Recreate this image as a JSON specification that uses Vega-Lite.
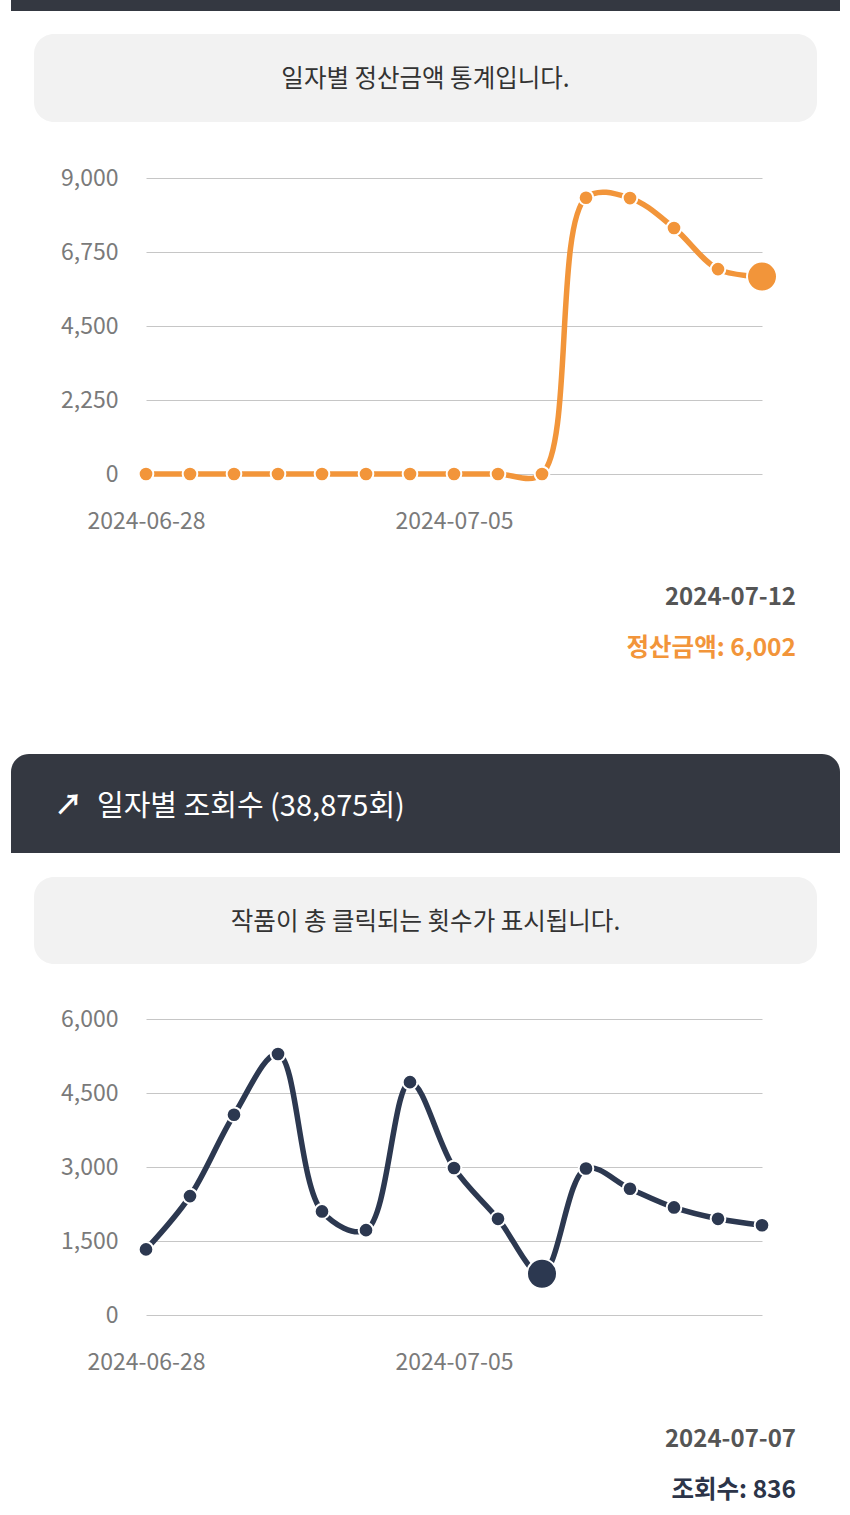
{
  "$schema": "https://vega.github.io/schema/vega-lite/v6.json",
  "background": "#ffffff",
  "padding": {"left": 11, "right": 10, "top": 0, "bottom": 0},
  "autosize": {"type": "pad"},
  "bounds": "flush",
  "spacing": 0,
  "config": {
    "view": {"stroke": null},
    "font": "Noto Sans CJK KR",
    "axis": {"labelFont": "Noto Sans CJK KR", "labelFontSize": 23, "labelColor": "#7a7a7a", "domain": false, "ticks": false, "tickSize": 0, "title": null}
  },
  "datasets": {
    "amount": [
      {"date": "2024-06-28", "value": 0},
      {"date": "2024-06-29", "value": 0},
      {"date": "2024-06-30", "value": 0},
      {"date": "2024-07-01", "value": 0},
      {"date": "2024-07-02", "value": 0},
      {"date": "2024-07-03", "value": 0},
      {"date": "2024-07-04", "value": 0},
      {"date": "2024-07-05", "value": 0},
      {"date": "2024-07-06", "value": 0},
      {"date": "2024-07-07", "value": 0},
      {"date": "2024-07-08", "value": 8400},
      {"date": "2024-07-09", "value": 8390},
      {"date": "2024-07-10", "value": 7480},
      {"date": "2024-07-11", "value": 6230},
      {"date": "2024-07-12", "value": 6002, "hl": true}
    ],
    "views": [
      {"date": "2024-06-28", "value": 1330},
      {"date": "2024-06-29", "value": 2410},
      {"date": "2024-06-30", "value": 4060},
      {"date": "2024-07-01", "value": 5290},
      {"date": "2024-07-02", "value": 2100},
      {"date": "2024-07-03", "value": 1720},
      {"date": "2024-07-04", "value": 4720},
      {"date": "2024-07-05", "value": 2980},
      {"date": "2024-07-06", "value": 1950},
      {"date": "2024-07-07", "value": 836, "hl": true},
      {"date": "2024-07-08", "value": 2970},
      {"date": "2024-07-09", "value": 2560},
      {"date": "2024-07-10", "value": 2180},
      {"date": "2024-07-11", "value": 1950},
      {"date": "2024-07-12", "value": 1819}
    ]
  },
  "vconcat": [
    {
      "width": 829, "height": 11,
      "data": {"values": [{"part": "strip"}]},
      "mark": {"type": "rect", "color": "#343841"}
    },
    {
      "width": 829, "height": 23,
      "data": {"values": []},
      "mark": "rect"
    },
    {
      "width": 829, "height": 88,
      "data": {"values": [{"msg": "일자별 정산금액 통계입니다.", "from": 0, "to": 1}]},
      "layer": [
        {
          "mark": {"type": "rect", "color": "#f2f2f2", "cornerRadius": 20},
          "encoding": {
            "x": {"field": "from", "type": "quantitative", "scale": {"domain": [0, 1], "range": [23, 806]}, "axis": null},
            "x2": {"field": "to"}
          }
        },
        {"mark": {"type": "text", "fontSize": 24.5, "color": "#333333", "dy": 2}, "encoding": {"text": {"field": "msg"}}}
      ]
    },
    {
      "width": 829, "height": 56,
      "data": {"values": []},
      "mark": "rect"
    },
    {
      "width": 829, "height": 296,
      "data": {"name": "amount"},
      "encoding": {
        "x": {
          "field": "date", "type": "temporal",
          "scale": {"type": "utc", "domain": [{"year": 2024, "month": 6, "date": 28, "utc": true}, {"year": 2024, "month": 7, "date": 12, "utc": true}], "range": [135, 751], "nice": false},
          "axis": {"values": [{"year": 2024, "month": 6, "date": 28, "utc": true}, {"year": 2024, "month": 7, "date": 5, "utc": true}], "format": "%Y-%m-%d", "grid": false, "labelPadding": 36, "labelFlush": false, "labelOverlap": false}
        },
        "y": {
          "field": "value", "type": "quantitative",
          "scale": {"domain": [0, 9000], "nice": false, "zero": false},
          "axis": {"values": [0, 2250, 4500, 6750, 9000], "format": ",d", "grid": true, "gridColor": "#c6c6c6", "gridWidth": 1, "offset": -107, "labelPadding": 0}
        }
      },
      "layer": [
        {"mark": {"type": "line", "color": "#f2953a", "strokeWidth": 5.5, "interpolate": "catmull-rom"}},
        {
          "mark": {"type": "circle", "color": "#f2953a", "opacity": 1, "stroke": "#ffffff", "strokeWidth": 2},
          "encoding": {"size": {"condition": {"test": "datum.hl", "value": 900}, "value": 215}}
        }
      ]
    },
    {
      "width": 829, "height": 236,
      "data": {"values": [{"d": "2024-07-12", "lab": "정산금액: 6,002"}]},
      "layer": [
        {"mark": {"type": "text", "align": "right", "dx": 370.5, "dy": 5.5, "fontSize": 24, "fontWeight": "bold", "color": "#555555"}, "encoding": {"text": {"field": "d"}}},
        {"mark": {"type": "text", "align": "right", "dx": 370.5, "dy": 56.5, "fontSize": 24.5, "fontWeight": "bold", "color": "#f2953a"}, "encoding": {"text": {"field": "lab"}}}
      ]
    },
    {
      "width": 829, "height": 44,
      "data": {"values": []},
      "mark": "rect"
    },
    {
      "width": 829, "height": 99,
      "data": {"values": [{"t": "일자별 조회수 (38,875회)", "icon": "↗"}]},
      "layer": [
        {"mark": {"type": "rect", "color": "#343841", "cornerRadiusTopLeft": 18, "cornerRadiusTopRight": 18}},
        {"mark": {"type": "text", "align": "center", "dx": -357, "dy": 3, "fontSize": 28, "fontWeight": "bold", "color": "#ffffff"}, "encoding": {"text": {"field": "icon"}}},
        {"mark": {"type": "text", "align": "left", "dx": -328.5, "dy": 3.5, "fontSize": 29, "color": "#ffffff"}, "encoding": {"text": {"field": "t"}}}
      ]
    },
    {
      "width": 829, "height": 24,
      "data": {"values": []},
      "mark": "rect"
    },
    {
      "width": 829, "height": 87,
      "data": {"values": [{"msg": "작품이 총 클릭되는 횟수가 표시됩니다.", "from": 0, "to": 1}]},
      "layer": [
        {
          "mark": {"type": "rect", "color": "#f2f2f2", "cornerRadius": 20},
          "encoding": {
            "x": {"field": "from", "type": "quantitative", "scale": {"domain": [0, 1], "range": [23, 806]}, "axis": null},
            "x2": {"field": "to"}
          }
        },
        {"mark": {"type": "text", "fontSize": 24.5, "color": "#333333", "dy": 2}, "encoding": {"text": {"field": "msg"}}}
      ]
    },
    {
      "width": 829, "height": 55,
      "data": {"values": []},
      "mark": "rect"
    },
    {
      "width": 829, "height": 296,
      "data": {"name": "views"},
      "encoding": {
        "x": {
          "field": "date", "type": "temporal",
          "scale": {"type": "utc", "domain": [{"year": 2024, "month": 6, "date": 28, "utc": true}, {"year": 2024, "month": 7, "date": 12, "utc": true}], "range": [135, 751], "nice": false},
          "axis": {"values": [{"year": 2024, "month": 6, "date": 28, "utc": true}, {"year": 2024, "month": 7, "date": 5, "utc": true}], "format": "%Y-%m-%d", "grid": false, "labelPadding": 36, "labelFlush": false, "labelOverlap": false}
        },
        "y": {
          "field": "value", "type": "quantitative",
          "scale": {"domain": [0, 6000], "nice": false, "zero": false},
          "axis": {"values": [0, 1500, 3000, 4500, 6000], "format": ",d", "grid": true, "gridColor": "#c6c6c6", "gridWidth": 1, "offset": -107, "labelPadding": 0}
        }
      },
      "layer": [
        {"mark": {"type": "line", "color": "#2c3850", "strokeWidth": 5.5, "interpolate": "catmull-rom"}},
        {
          "mark": {"type": "circle", "color": "#2c3850", "opacity": 1, "stroke": "#ffffff", "strokeWidth": 2},
          "encoding": {"size": {"condition": {"test": "datum.hl", "value": 900}, "value": 215}}
        }
      ]
    },
    {
      "width": 829, "height": 200,
      "data": {"values": [{"d": "2024-07-07", "lab": "조회수: 836"}]},
      "layer": [
        {"mark": {"type": "text", "align": "right", "dx": 370.5, "dy": 24.5, "fontSize": 24, "fontWeight": "bold", "color": "#555555"}, "encoding": {"text": {"field": "d"}}},
        {"mark": {"type": "text", "align": "right", "dx": 370.5, "dy": 75.5, "fontSize": 24.5, "fontWeight": "bold", "color": "#2c3448"}, "encoding": {"text": {"field": "lab"}}}
      ]
    }
  ]
}
